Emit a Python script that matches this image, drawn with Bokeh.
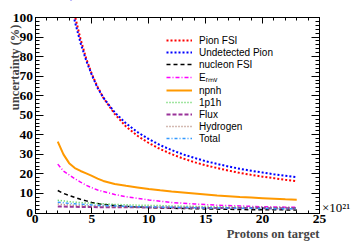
import math
from bokeh.plotting import figure
from bokeh.models import (LinearAxis, SingleIntervalTicker, Range1d, Label, Legend, LegendItem, BoxAnnotation)
from bokeh.embed import file_html
from bokeh.resources import INLINE

pot = [2, 2.5, 3, 3.5, 4, 4.5, 5, 5.5, 6, 7, 8, 9, 10, 11, 12, 13, 14, 15, 16, 17, 18, 19, 20, 21, 22, 23]
pion_fsi = [177, 142, 118, 101, 89, 79, 71, 64.5, 59, 50.7, 44.2, 39.5, 35.8, 32.7, 30.1, 27.9, 26.0, 24.4, 23.0, 21.7, 20.5, 19.5, 18.6, 17.8, 17.0, 16.3]
undetected_pion = [170, 136, 114, 98, 87, 78, 70.5, 64, 59, 51.5, 45.8, 41.4, 37.8, 34.7, 32.2, 30.0, 28.2, 26.5, 25.1, 23.8, 22.6, 21.6, 20.7, 19.8, 19.0, 18.3]
nucleon_fsi = [11.5, 10.0, 9.0, 8.0, 7.0, 6.2, 5.4, 4.8, 4.4, 3.8, 3.4, 3.1, 2.8, 2.6, 2.4, 2.3, 2.2, 2.1, 2.0, 1.9, 1.8, 1.7, 1.7, 1.6, 1.6, 1.5]
e_rmv = [25, 21.5, 19.5, 17.5, 15.8, 14.2, 12.9, 11.8, 11.0, 9.5, 8.3, 7.5, 6.7, 6.0, 5.4, 5.0, 4.6, 4.3, 4.0, 3.8, 3.6, 3.4, 3.2, 3.1, 3.0, 2.9]
npnh = [36.5, 30.0, 25.5, 23.0, 21.5, 20.3, 19.0, 17.6, 16.4, 14.8, 13.9, 13.1, 12.3, 11.6, 11.0, 10.5, 10.0, 9.5, 9.0, 8.6, 8.2, 7.9, 7.6, 7.3, 7.0, 6.8]
one_p1h = [6.5, 6.2, 5.8, 5.5, 5.3, 5.1, 5.0, 4.8, 4.7, 4.4, 4.2, 4.0, 3.9, 3.8, 3.6, 3.5, 3.4, 3.3, 3.2, 3.1, 3.0, 3.0, 2.9, 2.8, 2.8, 2.7]
flux = [3.3, 3.3, 3.2, 3.2, 3.1, 3.1, 3.1, 3.0, 3.0, 3.0, 2.9, 2.9, 2.8, 2.8, 2.8, 2.7, 2.7, 2.6, 2.6, 2.6, 2.5, 2.5, 2.5, 2.4, 2.4, 2.4]
hydrogen = [4.6, 4.3, 4.1, 3.9, 3.8, 3.7, 3.6, 3.5, 3.4, 3.2, 3.1, 3.0, 2.9, 2.8, 2.7, 2.6, 2.6, 2.5, 2.4, 2.4, 2.3, 2.3, 2.2, 2.2, 2.1, 2.1]
total = [5.5, 5.2, 4.9, 4.7, 4.5, 4.3, 4.1, 3.9, 3.8, 3.6, 3.4, 3.2, 3.1, 3.0, 2.9, 2.8, 2.7, 2.6, 2.5, 2.5, 2.4, 2.4, 2.3, 2.2, 2.2, 2.1]

series = [
    ("Pion FSI", pion_fsi, "#ff0000", "2 2", 2),
    ("Undetected Pion", undetected_pion, "#0000ff", "2 2", 2),
    ("nucleon FSI", nucleon_fsi, "#000000", "4 3", 1.5),
    ("E\u1d63\u2098\u1d65", e_rmv, "#ff00ff", "4 2 1 2", 1.5),
    ("npnh", npnh, "#ff9900", "solid", 2),
    ("1p1h", one_p1h, "#44cc44", "1 2", 1.5),
    ("Flux", flux, "#993399", "4 2", 2),
    ("Hydrogen", hydrogen, "#aa7766", "1 2", 1.5),
    ("Total", total, "#3399ff", "3 2 1 2", 1.5),
]

X0, X1 = 0, 25
Y0, Y1 = 0, 100
W, H = 355, 242
# plot-box placement (pixels) inside the canvas
L, R, T, B = 34.5, 319.0, 17.0, 212.5
sx = (R - L) / (X1 - X0)
sy = (B - T) / (Y1 - Y0)
xr = Range1d(X0 - L / sx, X1 + (W - R) / sx)
yr = Range1d(Y0 - (H - B) / sy, Y1 + T / sy)

p = figure(width=W, height=H, output_backend="svg", toolbar_location=None,
           x_range=xr, y_range=yr,
           min_border_left=0, min_border_right=0, min_border_top=0, min_border_bottom=0)
p.xgrid.visible = False
p.ygrid.visible = False
p.outline_line_color = None
p.background_fill_color = "white"
p.border_fill_color = "white"

items = []
for name, ys, color, dash, w in series:
    r = p.line(pot, ys, line_color=color, line_dash=dash, line_width=w)
    items.append(LegendItem(label=name, renderers=[r]))

# mask anything drawn above the top of the plot box
p.add_layout(BoxAnnotation(left=X0, right=X1, bottom=Y1 + 0.3, top=yr.end + 5,
                           fill_color="white", fill_alpha=1, line_alpha=0))

tick_font = "Liberation Serif"

def style_axis(ax, major, minor, labels=True):
    ax.major_tick_in = major
    ax.major_tick_out = 0
    ax.minor_tick_in = minor
    ax.minor_tick_out = 0
    ax.axis_line_color = "black"
    ax.axis_line_width = 1
    ax.major_tick_line_color = "black"
    ax.minor_tick_line_color = "black"
    if labels:
        ax.major_label_text_font = tick_font
        ax.major_label_text_font_style = "bold"
        ax.major_label_text_font_size = "13.5px"
        ax.major_label_text_color = "black"
        ax.major_label_standoff = 2
    else:
        ax.major_label_text_color = None

bx = p.below[0]
bx.ticker = SingleIntervalTicker(interval=5, num_minor_ticks=5)
bx.fixed_location = Y0
bx.bounds = (X0, X1)
style_axis(bx, 6, 3)

ly = p.left[0]
ly.ticker = SingleIntervalTicker(interval=10, num_minor_ticks=5)
ly.fixed_location = X0
ly.bounds = (Y0, Y1)
style_axis(ly, 8, 4)

top = LinearAxis(ticker=SingleIntervalTicker(interval=5, num_minor_ticks=5),
                 fixed_location=Y1, bounds=(X0, X1))
style_axis(top, 6, 3, labels=False)
p.add_layout(top, "above")
right = LinearAxis(ticker=SingleIntervalTicker(interval=10, num_minor_ticks=5),
                   fixed_location=X1, bounds=(Y0, Y1))
style_axis(right, 8, 4, labels=False)
p.add_layout(right, "right")

legend = Legend(items=items, location=(166, 98), border_line_alpha=0, background_fill_alpha=0,
                padding=0, margin=0, spacing=0, glyph_width=26, glyph_height=12,
                label_height=12, label_standoff=7,
                label_text_font="Liberation Sans", label_text_font_size="10px",
                label_text_color="black")
p.add_layout(legend)

ytitle = Label(x=xr.start + 14 / sx, y=yr.end - 24 / sy, text="uncertainty (%)", angle=math.pi / 2,
               text_align="right", text_baseline="middle",
               text_font=tick_font, text_font_style="bold", text_font_size="12.5px")
p.add_layout(ytitle)
xtitle = Label(x=X1, y=yr.end - 233.5 / sy, text="Protons on target", text_align="right",
               text_baseline="middle",
               text_font=tick_font, text_font_style="bold", text_font_size="12.5px")
p.add_layout(xtitle)
scale = Label(x=xr.start + 321.5 / sx, y=yr.end - 207 / sy, text="\u00d710\u00b2\u00b9",
              text_align="left", text_baseline="middle", text_color="black",
              text_font=tick_font, text_font_size="13px")
p.add_layout(scale)

open("out.html", "w").write(file_html(p, INLINE))
